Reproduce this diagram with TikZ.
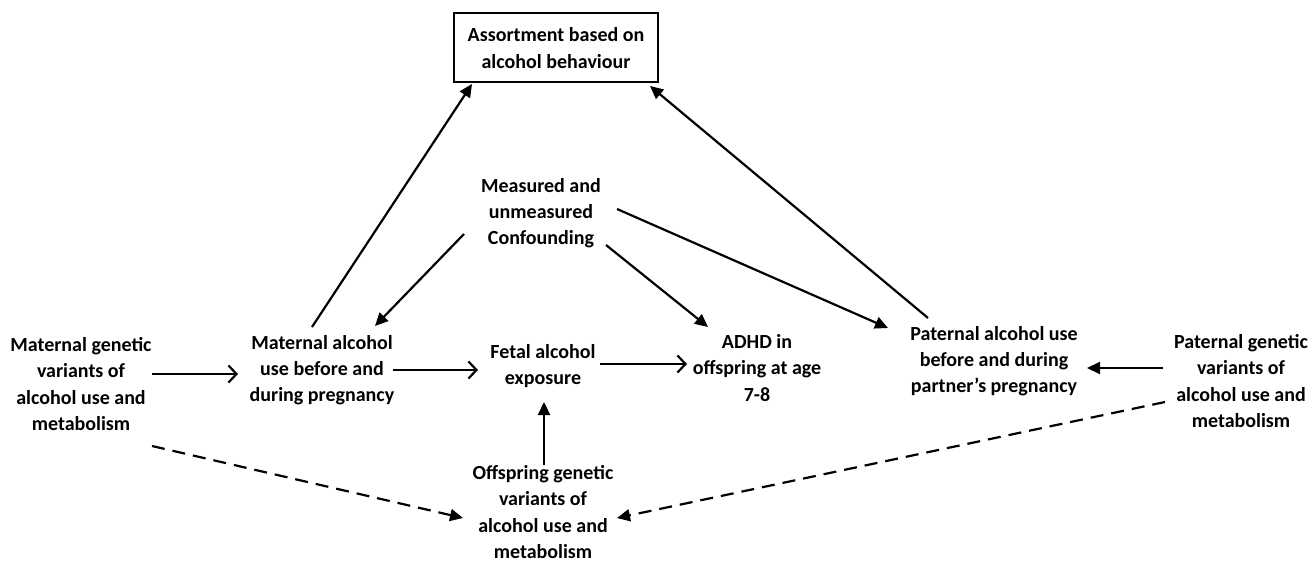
\documentclass[tikz,border=0pt]{standalone}
\usepackage{fontspec}
\setmainfont{Carlito}
\usetikzlibrary{arrows.meta}

\begin{document}
\begin{tikzpicture}[
    x=1pt, y=-1pt,
    txt/.style={align=center, font=\fontsize{20}{26.3}\selectfont\bfseries, inner sep=0pt},
    frame/.style={txt, draw, line width=2pt, minimum width=204pt, minimum height=69pt},
    arr/.style={-{Triangle[length=13pt,width=12pt]}, line width=2.2pt},
    openarr/.style={-{Straight Barb[length=8pt,width=17pt,line width=2.2pt]}, line width=2.2pt},
    dasharr/.style={arr, dash pattern=on 13pt off 8pt}
]
\useasboundingbox (0,0) rectangle (1308,561);
\node[frame] (assort)   at (556,48)  {Assortment based on\\alcohol behaviour};
\node[txt]   (conf)     at (541,213) {Measured and\\unmeasured\\Confounding};
\node[txt]   (matgen)   at (81,384)  {Maternal genetic\\variants of\\alcohol use and\\metabolism};
\node[txt]   (matalc)   at (322,370) {Maternal alcohol\\use before and\\during pregnancy};
\node[txt]   (fetal)    at (543,366) {Fetal alcohol\\exposure};
\node[txt]   (adhd)     at (757,368) {ADHD in\\offspring at age\\7-8};
\node[txt]   (patalc)   at (994,361) {Paternal alcohol use\\before and during\\partner’s pregnancy};
\node[txt]   (patgen)   at (1241,381) {Paternal genetic\\variants of\\alcohol use and\\metabolism};
\node[txt]   (offgen)   at (543,512) {Offspring genetic\\variants of\\alcohol use and\\metabolism};
% main pathway
\draw[openarr] ([shift={(71,-10)}]matgen.center) -- ([shift={(-84,4)}]matalc.center);
\draw[openarr] ([shift={(71,0)}]matalc.center) -- ([shift={(-65,4)}]fetal.center);
\draw[openarr] ([shift={(57,-2)}]fetal.center) -- ([shift={(-70,-4)}]adhd.center);
\draw[arr] ([shift={(-78,-13)}]patgen.center) -- ([shift={(93,7)}]patalc.center);
\draw[arr] ([shift={(1,-47)}]offgen.center) -- ([shift={(1,36)}]fetal.center);
% assortment
\draw[arr] ([shift={(-10,-43)}]matalc.center) -- ([shift={(-84,36)}]assort.center);
\draw[arr] ([shift={(-66,-43)}]patalc.center) -- ([shift={(94,38)}]assort.center);
% confounding
\draw[arr] ([shift={(-77,21)}]conf.center) -- ([shift={(53,-44)}]matalc.center);
\draw[arr] ([shift={(65,32)}]conf.center) -- ([shift={(-49,-41)}]adhd.center);
\draw[arr] ([shift={(76,-4)}]conf.center) -- ([shift={(-106,-33)}]patalc.center);
% genetic links to offspring
\draw[dasharr] ([shift={(71,62)}]matgen.center) -- ([shift={(-80,6)}]offgen.center);
\draw[dasharr] ([shift={(-76,21)}]patgen.center) -- ([shift={(74,6)}]offgen.center);
\end{tikzpicture}
\end{document}
